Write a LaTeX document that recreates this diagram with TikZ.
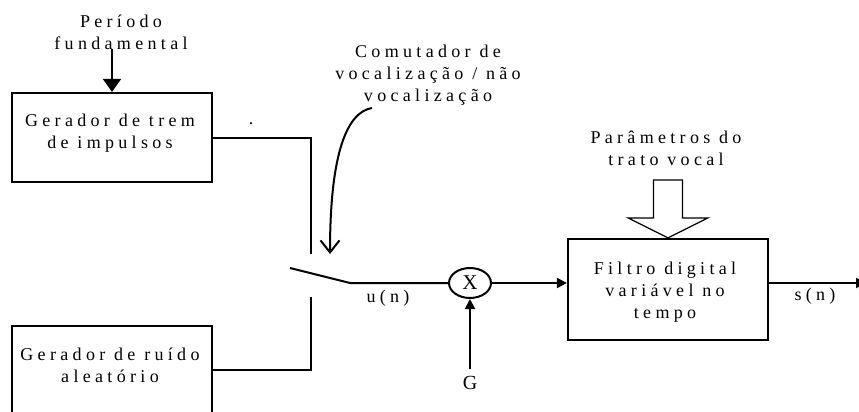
\documentclass[tikz,border=0pt]{standalone}
\usepackage{fontspec}
\setmainfont{Liberation Serif}[LetterSpace=24]
\usetikzlibrary{arrows.meta,shapes.geometric}
\begin{document}
\begin{tikzpicture}[x=1pt,y=-1pt,line width=2pt,
  box/.style={draw,line width=2.2pt,inner sep=0pt,minimum width=200pt},
  lbl/.style={font=\fontsize{18}{21.8}\selectfont,align=center,inner sep=0pt,outer sep=0pt},
  fill arrow/.style={-{Triangle[length=#1,width=#1]}},
  big arrow/.style={-{Triangle[length=13pt,width=18pt]}}]
\useasboundingbox (0,0) rectangle (859,412);
% boxes
\node[box,minimum height=89pt] (gt) at (112,137.5) {};
\node[box,minimum height=88pt] (gr) at (112,370) {};
\node[box,minimum height=101pt] (filt) at (668,289.5) {};
\node[draw,ellipse,line width=2pt,minimum width=42pt,minimum height=30pt,inner sep=0pt,
      font=\fontsize{21}{21}\selectfont\addfontfeatures{LetterSpace=0}] (mul) at (470,283) {X};
% texts
\node[lbl,anchor=base] (t1) at (110,148) {Gerador de trem\\de impulsos};
\node[lbl,anchor=base] (t2) at (110,382) {Gerador de ruído\\aleatório};
\node[lbl,anchor=base] (t3) at (665,318) {Filtro digital\\variável no\\tempo};
\node[lbl,anchor=base] (per) at (121,49) {Período\\fundamental};
\node[lbl,anchor=base] (com) at (428,101) {Comutador de\\vocalização / não\\vocalização};
\node[lbl,anchor=base] (par) at (666,165) {Parâmetros do\\trato vocal};
\node[lbl] (un) at (388,298) {u(n)};
\node[lbl] (sn) at (815,296) {s(n)};
\node[lbl,font=\fontsize{20}{20}\selectfont\addfontfeatures{LetterSpace=0}] (G) at (470,383) {G};
\node[lbl,anchor=base] (dot) at (251,124) {.};
% coordinates
\coordinate (sw1) at (311,254);
\coordinate (sw2) at (311,297);
\coordinate (lev) at (290,268);
\coordinate (piv) at (350,283);
\coordinate (cs) at (372,108);
\coordinate (ce) at (330,254);
\coordinate (out) at (866,283);
% connectors
\draw[big arrow] (gt.north |- per.south) -- (gt.north);
\draw (gt.east) -| (sw1);
\draw (gr.east) -| (sw2);
\draw (lev) -- (piv) -- (mul.west);
\draw[fill arrow=10pt] (mul.east) -- (mul.east -| filt.west);
\draw[fill arrow=10pt] ([yshift=7pt]G.north) -- (mul.south);
\draw[fill arrow=10pt] (filt.east |- out) -- (out);
\draw[-{Straight Barb[length=12pt,width=19pt]}] (cs) .. controls (348,112) and (330,150) .. (ce);
\draw[line width=1.2pt] (filt.north) -- ++(-40,-20) -- ++(25.5,0) -- ++(0,-38) -- ++(29,0)
  -- ++(0,38) -- ++(25.5,0) -- cycle;
\end{tikzpicture}
\end{document}
